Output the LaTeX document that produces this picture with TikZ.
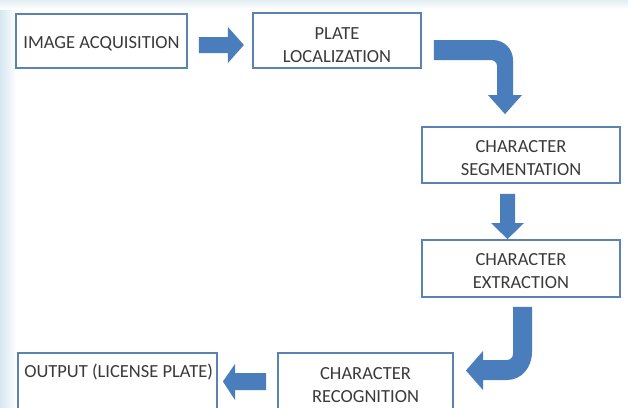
\documentclass[tikz,border=0pt]{standalone}
\usepackage{fontspec}
\setmainfont{Carlito}
\definecolor{boxblue}{HTML}{5B82B5}
\definecolor{arrowblue}{HTML}{4A7DBB}
\definecolor{textgray}{HTML}{3A3A3A}
\definecolor{leftbg}{HTML}{D6E7F1}
\definecolor{topbg}{HTML}{E2EEF3}
\newcommand{\dnr}[1]{\rule{0pt}{#1pt}}
\tikzset{
  procbox/.style={draw=boxblue, line width=1.8pt, fill=white, inner sep=0pt,
    font=\fontsize{18.5}{23.5}\selectfont, text=textgray, align=center},
  blockarrow/.style={fill=arrowblue}
}
\begin{document}
\begin{tikzpicture}[x=1pt,y=-1pt]
\useasboundingbox (0,0) rectangle (628,407);
\clip (0,0) rectangle (628,407);
\fill[white] (0,0) rectangle (628,407);
\fill[left color=leftbg, right color=white] (0,0) rectangle (16,407);
\fill[top color=topbg, bottom color=white] (0,0) rectangle (628,9);

% boxes
\node[procbox, minimum width=171pt, minimum height=54pt] (b1) at (101.5,41) {\dnr{17}IMAGE ACQUISITION};
\node[procbox, minimum width=168pt, minimum height=55pt] (b2) at (337,40.5) {\dnr{21}PLATE\\LOCALIZATION};
\node[procbox, minimum width=198pt, minimum height=56pt] (b3) at (521,155) {\dnr{18}CHARACTER\\SEGMENTATION};
\node[procbox, minimum width=198pt, minimum height=57pt] (b4) at (521,268.5) {\dnr{17}CHARACTER\\EXTRACTION};
\node[procbox, minimum width=175pt, minimum height=61pt] (b5) at (365.5,383.5) {\dnr{15}CHARACTER\\RECOGNITION};
\node[procbox, minimum width=199pt, minimum height=61pt,
  label={[anchor=north west, inner sep=0pt, xshift=7pt, yshift=-12pt,
          font=\fontsize{18.5}{23.5}\selectfont, text=textgray]north west:OUTPUT (LICENSE PLATE)}] (b6) at (117.5,383.5) {};

% arrow 1: b1 -> b2
\coordinate (a1s) at ([xshift=11pt,yshift=-4pt]b1.east);
\fill[blockarrow] (a1s) ++(0,-8) -- ++(29,0) -- ++(0,-10) -- ++(16,18)
  -- ++(-16,18) -- ++(0,-10) -- ++(-29,0) -- cycle;

% arrow 2: b2 -> b3 (bent)
\coordinate (a2s) at ([xshift=12pt,yshift=-9.5pt]b2.east);
\coordinate (a2e) at ([xshift=-16pt,yshift=12pt]b3.north);
\fill[blockarrow] ([yshift=10pt]a2s) -- (493,40) .. controls (504,40) and (513,49) .. (513,60)
  -- (513,95) -- (522,95) -- (a2e) -- (488,95) -- (497,95) -- (497,66)
  .. controls (497,62.7) and (494.3,60) .. (491,60) -- ([yshift=-10pt]a2s) -- cycle;

% arrow 3: b3 -> b4
\coordinate (a3s) at ([xshift=-13.5pt,yshift=-10pt]b3.south);
\coordinate (a3e) at ([xshift=-13.5pt]b4.north);
\fill[blockarrow] ([xshift=-7.5pt]a3s) -- ([xshift=7.5pt]a3s) -- (515,223) -- (524,223)
  -- (a3e) -- (491,223) -- (500,223) -- cycle;

% arrow 4: b4 -> b5 (bent)
\coordinate (a4s) at ([xshift=1.5pt,yshift=-9pt]b4.south);
\coordinate (a4e) at ([xshift=12pt,yshift=13pt]b5.east);
\fill[blockarrow] ([xshift=9.5pt]a4s) -- (532,352) .. controls (532,367.5) and (521.5,380) .. (507,380)
  -- (483,380) -- (483,390) -- (a4e) -- (483,351) -- (483,360) -- (507,360)
  .. controls (510.3,360) and (513,357.3) .. (513,354) -- ([xshift=-9.5pt]a4s) -- cycle;

% arrow 5: b5 -> b6
\coordinate (a5s) at ([xshift=-11pt,yshift=2pt]b5.west);
\coordinate (a5e) at ([xshift=5pt,yshift=2pt]b6.east);
\fill[blockarrow] ([yshift=8.5pt]a5s) -- (235,373) -- (235,364) -- (a5e) -- (235,400)
  -- (235,390) -- ([yshift=-8.5pt]a5s) -- cycle;
\end{tikzpicture}
\end{document}
